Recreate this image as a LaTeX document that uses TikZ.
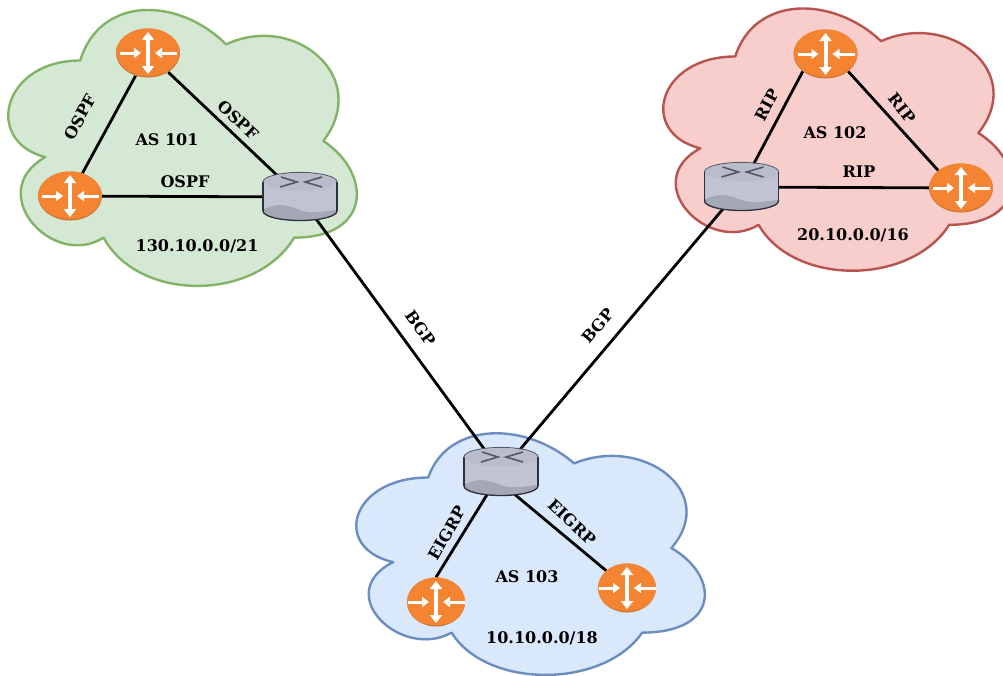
\documentclass[tikz,border=0pt]{standalone}
\usepackage{fontspec}
\setmainfont{DejaVu Serif}
\definecolor{cloudgreen}{RGB}{213,232,212}
\definecolor{cloudgreenline}{RGB}{130,179,102}
\definecolor{cloudred}{RGB}{248,206,204}
\definecolor{cloudredline}{RGB}{184,84,80}
\definecolor{cloudblue}{RGB}{218,232,252}
\definecolor{cloudblueline}{RGB}{108,142,191}
\definecolor{routerorange}{RGB}{245,132,50}
\definecolor{routershade}{RGB}{205,120,55}
\definecolor{gatewaybody}{RGB}{192,196,210}
\definecolor{gatewaytop}{RGB}{184,188,203}
\definecolor{gatewaybase}{RGB}{164,168,182}
\definecolor{gatewayline}{RGB}{45,48,58}
\definecolor{gatewaymark}{RGB}{85,88,98}
\usetikzlibrary{shapes.geometric,arrows.meta,backgrounds}

\begin{document}
\begin{tikzpicture}[x=1pt, y=-1pt,
        cloudedge/.style={line width=2.4pt, line join=round},
        link/.style={line width=2.8pt, black},
        netlabel/.style={inner sep=0pt, font=\fontsize{16}{19}\selectfont\bfseries},
        router/.style={ellipse, inner sep=0pt, fill=routershade,
            minimum width=#1 pt, minimum height=49pt,
            path picture={
                \begin{scope}[shift={(path picture bounding box.center)}, xscale=#1/64]
                    \fill[routerorange] (0,-1.5) ellipse (32 and 24.5);
                    \draw[white, line width=4pt, {Triangle[length=8pt,width=12pt]}-{Triangle[length=8pt,width=12pt]}] (0,-21) -- (0,21);
                    \draw[white, line width=3pt, -{Triangle[length=7pt,width=10pt]}] (-28,0) -- (-7,0);
                    \draw[white, line width=3pt, -{Triangle[length=7pt,width=10pt]}] (29,0) -- (7,0);
                \end{scope}
            }},
        router/.default=64,
        gateway/.style={rectangle, inner sep=0pt, minimum width=78pt, minimum height=52pt,
            path picture={
                \begin{scope}[shift={(path picture bounding box.center)}]
                    \filldraw[fill=gatewaybase, draw=gatewayline, line width=1.3pt] (0,14) ellipse (37 and 9.5);
                    \draw[gatewaymark, line width=1.1pt] (0,-15) ellipse (37 and 9.5);
                    \fill[gatewaybody] (-37,-15) -- (37,-15) -- (37,13) .. controls (32,13) and (24,15) .. (16,15) .. controls (4,16) and (0,12) .. (-12,9) .. controls (-20,7) and (-28,8) .. (-37,13) -- cycle;
                    \draw[gatewayline, line width=1.3pt] (-37,-15) -- (-37,14);
                    \draw[gatewayline, line width=1.3pt] (37,-15) -- (37,14);
                    \fill[gatewaytop] (0,-15) ellipse (36.4 and 9);
                    \draw[gatewaymark, line width=1.6pt] (-19,-20) -- (-3,-15) -- (-20,-10);
                    \draw[gatewaymark, line width=1.6pt] (22,-20) -- (5,-15) -- (22,-10);
                \end{scope}
            }}]

    % Area of the picture
    \useasboundingbox (0,0) rectangle (1003,675);

    % Routers
    \node[router] (rtA) at (148,53) {};
    \node[router] (rtB) at (70,196) {};
    \node[router] (rtC) at (825.5,54) {};
    \node[router] (rtD) at (961,188) {};
    \node[router=58] (rtE) at (436,602) {};
    \node[router=58] (rtF) at (627,588) {};

    % Border routers
    \node[gateway] (gwA) at (300,197) {};
    \node[gateway] (gwB) at (741.5,187) {};
    \node[gateway] (gwC) at (501,472) {};
    \coordinate (gwCport) at (501,483);

    \begin{scope}[on background layer]
        \fill[white] (0,0) rectangle (1003,675);

        % Clouds
        \foreach \cx/\cy/\ch/\cfill/\cline in {-17/-20/322/cloudgreen/cloudgreenline, 638/-20/306/cloudred/cloudredline, 331/407/282/cloudblue/cloudblueline} {
            \draw[cloudedge, fill=\cfill, draw=\cline, shift={(\cx,\cy)}, x=389pt, y=-\ch pt]
                (0.25,0.25) .. controls (0.05,0.25) and (0,0.5) .. (0.16,0.55)
                .. controls (0,0.66) and (0.18,0.9) .. (0.31,0.8)
                .. controls (0.4,1) and (0.7,1) .. (0.8,0.8)
                .. controls (1,0.8) and (1,0.6) .. (0.875,0.5)
                .. controls (1,0.3) and (0.8,0.1) .. (0.625,0.2)
                .. controls (0.5,0.05) and (0.3,0.05) .. (0.25,0.25) -- cycle;
        }

        % Links
        \foreach \from/\to in {rtA/rtB, rtA/gwA.center, rtB/gwA.center, gwB.center/rtD, rtC.south west/gwB.center, rtC.south east/rtD.north west, rtE.north/gwC.center, rtF/gwCport, gwA.center/gwC.center, gwB.center/gwC.center} {
            \draw[link] (\from) -- (\to);
        }
    \end{scope}

    % Link labels
    \node[netlabel, rotate=61] (ospfA) at (80,117) {OSPF};
    \node[netlabel, rotate=-43] (ospfB) at (238,120) {OSPF};
    \node[netlabel] (ospfC) at (185,182) {OSPF};
    \node[netlabel, rotate=-55] (bgpA) at (421,328) {BGP};
    \node[netlabel, rotate=50] (bgpB) at (598,326) {BGP};
    \node[netlabel, rotate=62] (ripA) at (767,105) {RIP};
    \node[netlabel, rotate=-52] (ripB) at (902,108) {RIP};
    \node[netlabel] (ripC) at (859,172) {RIP};
    \node[netlabel, rotate=60] (eigrpA) at (447,533) {EIGRP};
    \node[netlabel, rotate=-43] (eigrpB) at (572,522) {EIGRP};

    % Networks
    \node[netlabel] (asA) at (167,140) {AS 101};
    \node[netlabel] (netA) at (197,246) {130.10.0.0/21};
    \node[netlabel] (asB) at (835,133) {AS 102};
    \node[netlabel] (netB) at (853,235) {20.10.0.0/16};
    \node[netlabel] (asC) at (527,577) {AS 103};
    \node[netlabel] (netC) at (542,638) {10.10.0.0/18};
\end{tikzpicture}
\end{document}
